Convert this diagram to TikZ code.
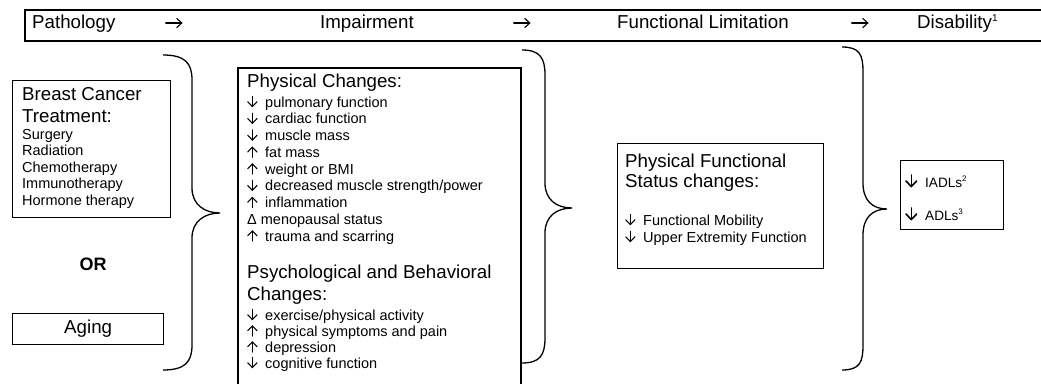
\documentclass[tikz,border=0pt]{standalone}
\usepackage{fontspec}
\setmainfont{Liberation Sans}
\newcommand{\fs}[1]{\fontsize{#1}{#1}\selectfont}
\newcommand{\darr}[2]{\tikz[x=#1pt,y=#1pt,baseline=0pt,line width=#2pt,line cap=round,line join=round]{\draw (5,10.5)--(5,0.4); \draw (0.4,5.2)--(5,0.4)--(9.6,5.2);}}
\newcommand{\uarr}[2]{\tikz[x=#1pt,y=#1pt,baseline=0pt,line width=#2pt,line cap=round,line join=round]{\draw (5,0)--(5,10.1); \draw (0.4,5.3)--(5,10.1)--(9.6,5.3);}}
\newcommand{\rarr}{\tikz[x=1pt,y=1pt,baseline=0pt,line width=1.1pt,line cap=round,line join=round]{\draw (0,5)--(16,5); \draw (11,0.4)--(16,5)--(11,9.6);}}
\newcommand{\dn}{\makebox[18pt][l]{\darr{1}{1.1}}}
\newcommand{\up}{\makebox[18pt][l]{\uarr{1}{1.1}}}
\begin{document}
\begin{tikzpicture}[x=1pt,y=-1pt,
  box/.style={draw, line width=1.3pt, inner sep=0pt, anchor=north west},
  txt/.style={anchor=base west, inner sep=0pt, font=\fs{14.5}},
  hd/.style={anchor=base west, inner sep=0pt, font=\fs{18.7}},
  brace/.style={draw, line width=1.3pt}]
\useasboundingbox (0,0) rectangle (1041,383);
% header
\draw[line width=1.5pt] (1050,10) -- (25,10) -- (25,41) -- (1050,41);
\node[hd] (h1) at (32,28) {Pathology};
\node[hd] (a1) at (165,28) {\rarr};
\node[hd] (h2) at (320,28) {Impairment};
\node[hd] (a2) at (513,28) {\rarr};
\node[hd] (h3) at (617,28) {Functional Limitation};
\node[hd] (a3) at (851,28) {\rarr};
\node[hd] (h4) at (917,28) {Disability\raisebox{7pt}{\fs{10}1}};
% pathology column
\node[box, minimum width=158pt, minimum height=137pt] (bc) at (12,80) {};
\node[hd] (bc1) at (22,100) {Breast Cancer};
\node[hd] (bc2) at (22,122) {Treatment:};
\foreach \t [count=\i] in {Surgery,Radiation,Chemotherapy,Immunotherapy,Hormone therapy}
  \node[txt] (bcl\i) at (22,{139+16.5*(\i-1)}) {\t};
\node[anchor=base, inner sep=0pt, font=\fs{18}\bfseries] (or) at (93,270) {OR};
\node[box, minimum width=151pt, minimum height=31pt] (ag) at (12,313) {};
\node[anchor=base, inner sep=0pt, font=\fs{18.7}] (agt) at (ag.center |- 0,333) {Aging};
\path[brace] (163,55) .. controls (185,55) and (192,63) .. (192,80) -- (192,188)
  .. controls (192,205) and (205,213) .. (220,213)
  .. controls (205,213) and (192,221) .. (192,238) -- (192,345)
  .. controls (192,362) and (185,370) .. (163,370);
% impairment column
\draw[line width=1.3pt] (238,395) -- (238,68) -- (521,68) -- (521,395);
\node[hd] (pc) at (247,87) {Physical Changes:};
\foreach \t [count=\i] in {\dn pulmonary function,\dn cardiac function,\dn muscle mass,\up fat mass,\up weight or BMI,\dn decreased muscle strength/power,\up inflammation,Δ menopausal status,\up trauma and scarring}
  \node[txt] (pcl\i) at (247,{107+16.75*(\i-1)}) {\t};
\node[hd] (ps1) at (247,278) {Psychological and Behavioral};
\node[hd] (ps2) at (247,300) {Changes:};
\foreach \t [count=\i] in {\dn exercise/physical activity,\up physical symptoms and pain,\up depression,\dn cognitive function}
  \node[txt] (psl\i) at (247,{320+16*(\i-1)}) {\t};
\path[brace] (522,50) .. controls (540,50) and (545,58) .. (545,75) -- (545,183)
  .. controls (545,200) and (557,208) .. (572,208)
  .. controls (557,208) and (545,216) .. (545,233) -- (545,338)
  .. controls (545,355) and (540,363) .. (522,363);
% functional limitation column
\node[box, minimum width=206pt, minimum height=125pt] (fs) at (617,143) {};
\node[hd] (fs1) at (625,167) {Physical Functional};
\node[hd] (fs2) at (625,187) {Status changes:};
\node[txt] (fs3) at (625,225) {\dn Functional Mobility};
\node[txt] (fs4) at (625,242) {\dn Upper Extremity Function};
\path[brace] (842,47) .. controls (860,47) and (863,55) .. (863,72) -- (863,183)
  .. controls (863,200) and (872,209) .. (887,209)
  .. controls (872,209) and (863,218) .. (863,235) -- (863,345)
  .. controls (863,362) and (860,370) .. (842,370);
% disability column
\node[box, minimum width=103pt, minimum height=69pt] (ad) at (900,160) {};
\node[anchor=base west, inner sep=0pt] (ad1a) at (905,187) {\darr{1.15}{1.6}};
\node[anchor=base west, inner sep=0pt, font=\fs{13.6}] (ad1) at (925,187) {IADLs\raisebox{6pt}{\fs{8}2}};
\node[anchor=base west, inner sep=0pt] (ad2a) at (905,220) {\darr{1.15}{1.6}};
\node[anchor=base west, inner sep=0pt, font=\fs{13.6}] (ad2) at (925,220) {ADLs\raisebox{6pt}{\fs{8}3}};
\end{tikzpicture}
\end{document}
